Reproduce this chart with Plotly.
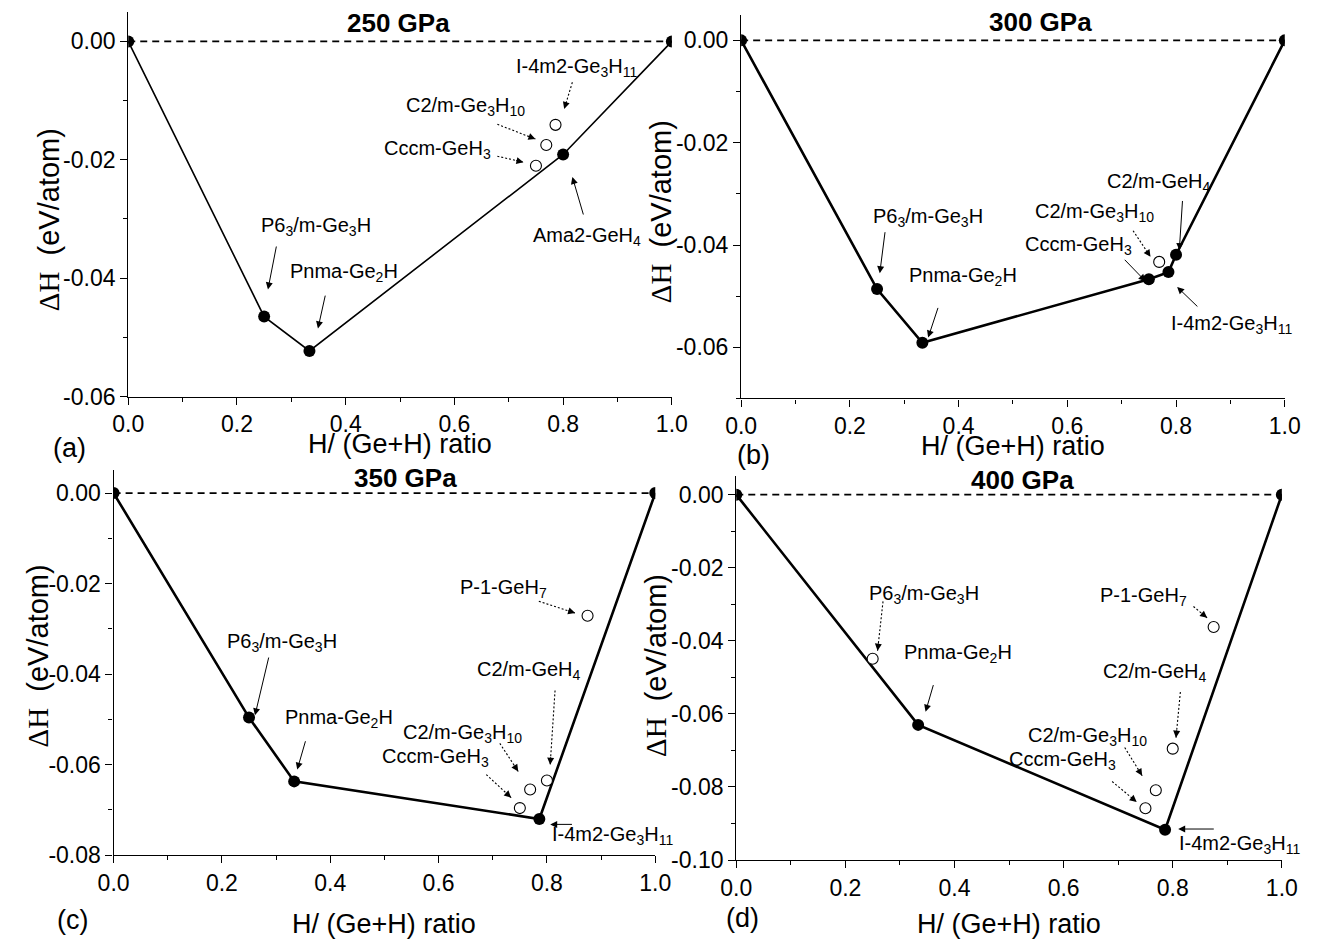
import math
import plotly.graph_objects as go

W, H = 1332, 951

# ---------------- data ----------------
panel_titles = ["250 GPa", "300 GPa", "350 GPa", "400 GPa"]
panel_letters = ["(a)", "(b)", "(c)", "(d)"]
x_title = "H/ (Ge+H) ratio"
y_title = "<span style='font-family:Liberation Serif'>ΔH</span>  (eV/atom)"

x_tick_vals = [0.0, 0.2, 0.4, 0.6, 0.8, 1.0]
x_tick_text = ["0.0", "0.2", "0.4", "0.6", "0.8", "1.0"]

# 250 GPa
hull_x_250 = [0.0, 0.25, 1 / 3, 0.8, 1.0]
hull_y_250 = [0.0, -0.0465, -0.0523, -0.0191, 0.0]
meta_x_250 = [0.75, 0.769, 0.786]
meta_y_250 = [-0.0210, -0.0175, -0.0141]
y_ticks_250 = [0.0, -0.02, -0.04, -0.06]

# 300 GPa
hull_x_300 = [0.0, 0.25, 1 / 3, 0.75, 0.786, 0.8, 1.0]
hull_y_300 = [0.0, -0.0486, -0.0591, -0.0467, -0.0453, -0.0419, 0.0]
meta_x_300 = [0.769]
meta_y_300 = [-0.0433]
y_ticks_300 = [0.0, -0.02, -0.04, -0.06]

# 350 GPa
hull_x_350 = [0.0, 0.25, 1 / 3, 0.786, 1.0]
hull_y_350 = [0.0, -0.0496, -0.0637, -0.0720, 0.0]
meta_x_350 = [0.75, 0.769, 0.8, 0.875]
meta_y_350 = [-0.0696, -0.0655, -0.0635, -0.0271]
y_ticks_350 = [0.0, -0.02, -0.04, -0.06, -0.08]

# 400 GPa
hull_x_400 = [0.0, 1 / 3, 0.786, 1.0]
hull_y_400 = [0.0, -0.0630, -0.0917, 0.0]
meta_x_400 = [0.25, 0.75, 0.769, 0.8, 0.875]
meta_y_400 = [-0.0449, -0.0858, -0.0809, -0.0695, -0.0362]
y_ticks_400 = [0.0, -0.02, -0.04, -0.06, -0.08, -0.10]

hulls = [(hull_x_250, hull_y_250), (hull_x_300, hull_y_300),
         (hull_x_350, hull_y_350), (hull_x_400, hull_y_400)]
metas = [(meta_x_250, meta_y_250), (meta_x_300, meta_y_300),
         (meta_x_350, meta_y_350), (meta_x_400, meta_y_400)]
yticks = [y_ticks_250, y_ticks_300, y_ticks_350, y_ticks_400]

P63 = "P6<sub>3</sub>/m-Ge<sub>3</sub>H"
PNMA = "Pnma-Ge<sub>2</sub>H"
CCCM = "Cccm-GeH<sub>3</sub>"
C2M10 = "C2/m-Ge<sub>3</sub>H<sub>10</sub>"
I4M2 = "I-4m2-Ge<sub>3</sub>H<sub>11</sub>"
AMA2 = "Ama2-GeH<sub>4</sub>"
C2M4 = "C2/m-GeH<sub>4</sub>"
P1 = "P-1-GeH<sub>7</sub>"

# ---------------- layout spec ----------------
FONT = "Liberation Sans, Arial, sans-serif"

# plot areas in pixels: (left, right, top, bottom), y range
panels = [
    dict(px=(115, 672, 12, 402), yr=(-0.06, 0.005), lw=1.6),
    dict(px=(743, 1300, 15, 404), yr=(-0.07, 0.005), lw=2.6),
    dict(px=(100, 655, 477, 867), yr=(-0.08, 0.005), lw=2.6),
    dict(px=(738, 1297, 483, 872), yr=(-0.10, 0.005), lw=2.6),
]

# labels: (text, x, y, xanchor)
labels = [
    [(P63, 0.240, -0.0313, "left"), (PNMA, 0.294, -0.0391, "left"),
     (AMA2, 0.740, -0.0330, "left"), (CCCM, 0.467, -0.0182, "left"),
     (C2M10, 0.733, -0.0110, "right"), (I4M2, 0.710, -0.0044, "left")],
    [(P63, 0.238, -0.0346, "left"), (PNMA, 0.305, -0.0462, "left"),
     (CCCM, 0.518, -0.0400, "left"), (C2M10, 0.764, -0.0336, "right"),
     (C2M4, 0.669, -0.0278, "left"), (I4M2, 0.787, -0.0555, "left")],
    [(P1, 0.636, -0.0211, "left"), (P63, 0.205, -0.0331, "left"),
     (PNMA, 0.312, -0.0498, "left"), (C2M4, 0.668, -0.0393, "left"),
     (C2M10, 0.757, -0.0531, "right"), (CCCM, 0.697, -0.0585, "right"),
     (I4M2, 0.806, -0.0756, "left")],
    [(P63, 0.239, -0.0274, "left"), (PNMA, 0.304, -0.0436, "left"),
     (P1, 0.663, -0.0279, "left"), (C2M4, 0.669, -0.0486, "left"),
     (C2M10, 0.757, -0.0661, "right"), (CCCM, 0.700, -0.0728, "right"),
     (I4M2, 0.807, -0.0958, "left")],
]

# arrows: (tail_x, tail_y, head_x, head_y, dotted)
arrows = [
    [(0.273, -0.0344, 0.257, -0.0419, False), (0.363, -0.0427, 0.349, -0.0485, False),
     (0.838, -0.0295, 0.817, -0.0229, False), (0.679, -0.0194, 0.727, -0.0204, True),
     (0.679, -0.0140, 0.749, -0.0165, True), (0.817, -0.0069, 0.802, -0.0114, True)],
    [(0.265, -0.0372, 0.255, -0.0455, False), (0.363, -0.0520, 0.344, -0.0581, False),
     (0.703, -0.0426, 0.744, -0.0471, False), (0.721, -0.0372, 0.753, -0.0423, True),
     (0.812, -0.0311, 0.806, -0.0410, False), (0.842, -0.0523, 0.802, -0.0482, False)],
    [(0.785, -0.0239, 0.852, -0.0265, True), (0.287, -0.0360, 0.261, -0.0491, False),
     (0.355, -0.0545, 0.339, -0.0611, False), (0.815, -0.0436, 0.806, -0.0600, True),
     (0.713, -0.0553, 0.747, -0.0615, True), (0.688, -0.0622, 0.734, -0.0673, True),
     (0.849, -0.0732, 0.806, -0.0732, False)],
    [(0.269, -0.0292, 0.259, -0.0427, True), (0.362, -0.0517, 0.347, -0.0594, False),
     (0.838, -0.0306, 0.863, -0.0337, True), (0.814, -0.0540, 0.806, -0.0665, True),
     (0.712, -0.0692, 0.744, -0.0769, True), (0.689, -0.0785, 0.734, -0.0841, True),
     (0.878, -0.0915, 0.810, -0.0915, False)],
]

# outer text positions in pixels
title_px = [(392, 23), (1050, 22), (399, 485), (1031, 487)]
letter_px = [(55, 454), (756, 461), (58, 933), (744, 931)]
ytitle_px = [(34, 223), (661, 215), (22, 665), (656, 675)]
xtitle_y = [450, 452, 937, 937]

fig = go.Figure()
annotations = []
shapes = []

for i, p in enumerate(panels):
    l, r, t, b = p["px"]
    xa = "x" if i == 0 else f"x{i+1}"
    ya = "y" if i == 0 else f"y{i+1}"
    xkey = "xaxis" if i == 0 else f"xaxis{i+1}"
    ykey = "yaxis" if i == 0 else f"yaxis{i+1}"
    y0, y1 = p["yr"]
    xs = (r - l) / 1.0
    ys = (b - t) / (y1 - y0)

    fig.add_trace(go.Scatter(x=[0, 1], y=[0, 0], mode="lines", xaxis=xa, yaxis=ya,
                             line=dict(color="black", width=1.8, dash="7px,5px"),
                             hoverinfo="skip", showlegend=False))
    hx, hy = hulls[i]
    fig.add_trace(go.Scatter(x=hx, y=hy, mode="lines+markers", xaxis=xa, yaxis=ya,
                             line=dict(color="black", width=p["lw"]),
                             marker=dict(size=12, color="black"),
                             showlegend=False))
    mx, my = metas[i]
    fig.add_trace(go.Scatter(x=mx, y=my, mode="markers", xaxis=xa, yaxis=ya,
                             marker=dict(size=11, color="white", symbol="circle",
                                         line=dict(color="black", width=1.1)),
                             showlegend=False))

    fig.update_layout(**{
        xkey: dict(domain=[l / W, r / W], anchor=ya, range=[0, 1],
                   tickvals=x_tick_vals, ticktext=x_tick_text,
                   ticks="outside", ticklen=7, tickwidth=1.2, tickcolor="black",
                   minor=dict(dtick=0.1, ticks="outside", ticklen=4, tickcolor="black"),
                   showline=True, linecolor="black", linewidth=1.3,
                   showgrid=False, zeroline=False,
                   tickfont=dict(family=FONT, size=23, color="black")),
        ykey: dict(domain=[1 - b / H, 1 - t / H], anchor=xa, range=[y0, y1],
                   tickvals=yticks[i],
                   ticktext=[f"{v:.2f}".replace("-0.00", "0.00") for v in yticks[i]],
                   ticks="outside", ticklen=7, tickwidth=1.2, tickcolor="black",
                   minor=dict(dtick=0.01, ticks="outside", ticklen=4, tickcolor="black"),
                   showline=True, linecolor="black", linewidth=1.3,
                   showgrid=False, zeroline=False,
                   tickfont=dict(family=FONT, size=23, color="black")),
    })

    for (txt, x, y, xanc) in labels[i]:
        annotations.append(dict(text=txt, x=x, y=y, xref=xa, yref=ya, xanchor=xanc,
                                yanchor="middle", showarrow=False,
                                font=dict(family=FONT, size=20, color="black")))
    for (tx, ty, hx_, hy_, dotted) in arrows[i]:
        if not dotted:
            annotations.append(dict(text="", x=hx_, y=hy_, ax=tx, ay=ty, xref=xa, yref=ya,
                                    axref=xa, ayref=ya, showarrow=True, arrowhead=2,
                                    arrowsize=1.4, arrowwidth=1, arrowcolor="black"))
        else:
            shapes.append(dict(type="line", xref=xa, yref=ya, x0=tx, y0=ty, x1=hx_, y1=hy_,
                               line=dict(color="black", width=1.1, dash="2px,2px")))
            dx = (hx_ - tx) * xs
            dy = -(hy_ - ty) * ys
            n = math.hypot(dx, dy)
            annotations.append(dict(text="", x=hx_, y=hy_, ax=-dx / n * 9, ay=-dy / n * 9,
                                    xref=xa, yref=ya, showarrow=True, arrowhead=2,
                                    arrowsize=1.4, arrowwidth=1, arrowcolor="black"))

    tx_, ty_ = title_px[i]
    annotations.append(dict(text="<b>" + panel_titles[i] + "</b>", x=tx_ / W, y=1 - ty_ / H,
                            xref="paper", yref="paper", showarrow=False,
                            xanchor="center", yanchor="middle",
                            font=dict(family=FONT, size=26, color="black")))
    lx, ly = letter_px[i]
    annotations.append(dict(text=panel_letters[i], x=lx / W, y=1 - ly / H, xref="paper",
                            yref="paper", showarrow=False, xanchor="center", yanchor="middle",
                            font=dict(family=FONT, size=27, color="black")))
    yx, yy = ytitle_px[i]
    annotations.append(dict(text=y_title, x=yx / W, y=1 - yy / H, xref="paper", yref="paper",
                            showarrow=False, textangle=-90, xanchor="center", yanchor="middle",
                            font=dict(family=FONT, size=29, color="black")))
    annotations.append(dict(text=x_title, x=(l + r) / 2 / W, y=1 - xtitle_y[i] / H,
                            xref="paper", yref="paper", showarrow=False,
                            xanchor="center", yanchor="middle",
                            font=dict(family=FONT, size=27, color="black")))

fig.update_layout(width=W, height=H, margin=dict(l=0, r=0, t=0, b=0),
                  paper_bgcolor="white", plot_bgcolor="white",
                  annotations=annotations, shapes=shapes, showlegend=False)

fig.write_html("out.html")
